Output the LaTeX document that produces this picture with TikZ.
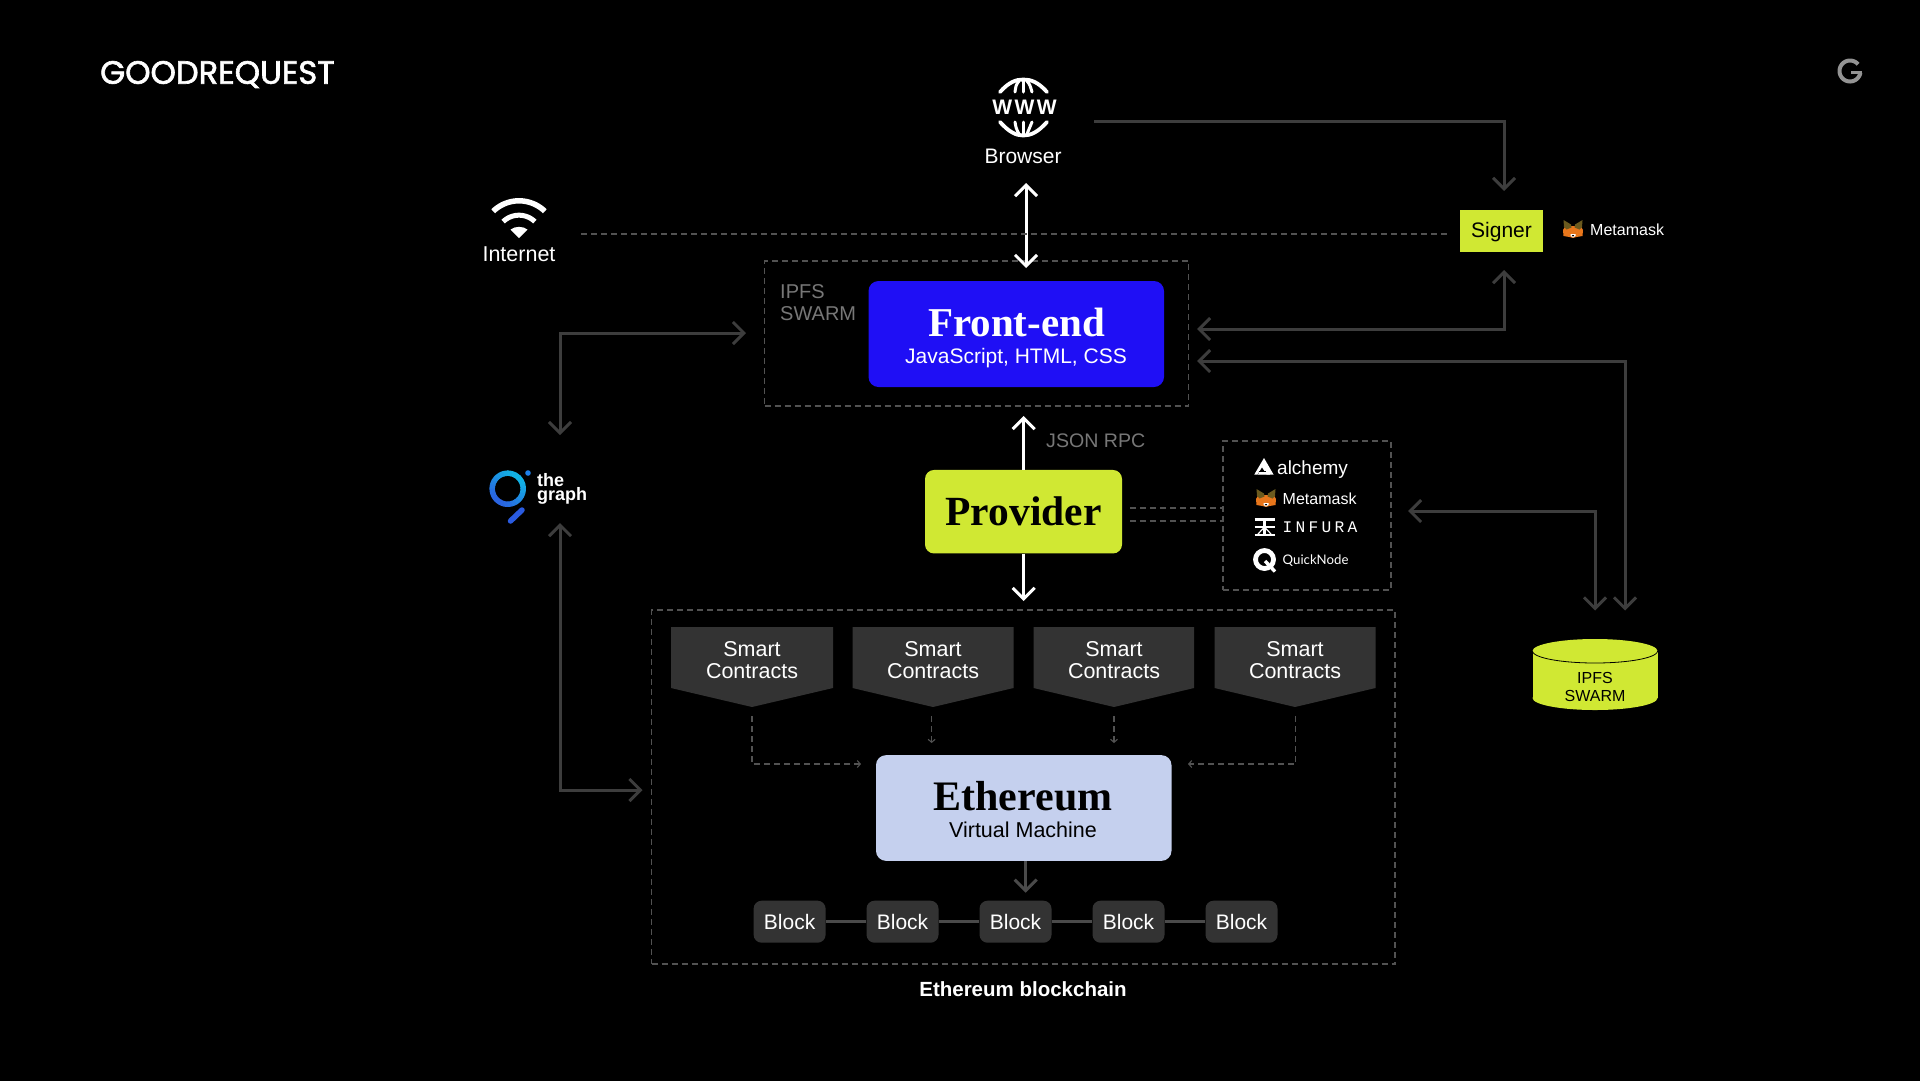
\documentclass[tikz,border=0pt]{standalone}
\usepackage{fontspec}
\usetikzlibrary{arrows.meta,shapes.geometric,calc}
\setmainfont{Liberation Sans}
\newfontfamily\dispfont{Liberation Serif}
\newfontfamily\logofont[FakeBold=2]{Poppins}
\newfontfamily\lato{Lato}
\newfontfamily\infurafont[LetterSpace=20]{Liberation Mono}
\newfontfamily\wwwfont[LetterSpace=12]{Liberation Sans}
\definecolor{lime}{HTML}{D0E833}
\definecolor{bluebox}{HTML}{1F0FF5}
\definecolor{evm}{HTML}{C5D0EE}
\definecolor{darkbox}{HTML}{333333}
\definecolor{lineg}{HTML}{3D3D3D}
\definecolor{lineh}{HTML}{4A4A4A}
\definecolor{dashg}{HTML}{525252}
\definecolor{labelg}{HTML}{777777}
\definecolor{foxo}{HTML}{E8761B}
\definecolor{foxd}{HTML}{6B5A1E}
\definecolor{graphblue}{HTML}{2A5BE0}
\definecolor{graphdot}{HTML}{1E80E8}
\newcommand{\fsz}[1]{\fontsize{#1}{#1}\selectfont}
\newcommand{\foxicon}[2]{%
 \begin{scope}[shift={(#1,#2)}]
  \fill[foxo] (0,10)--(3,5)--(7,6)--(13,6)--(17,5)--(20,10)--(19.5,16)--(13.5,17)--(10,18)--(6.5,17)--(0.5,16)--cycle;
  \fill[foxd] (0.5,0)--(8,4.5)--(8.5,7.5)--(3.5,9.5)--(1,7)--cycle;
  \fill[foxd] (19.5,0)--(12,4.5)--(11.5,7.5)--(16.5,9.5)--(19,7)--cycle;
  \fill[white] (7.5,14)--(12.5,14)--(12.5,16)--(10,17.5)--(7.5,16)--cycle;
  \fill[black] (8.8,15.2)--(11.2,15.2)--(10,16.6)--cycle;
 \end{scope}}
\tikzset{
 txt/.style={text=white,inner sep=0pt,align=center},
 ln/.style={draw=lineg,line width=3pt},
 arr/.style={ln,-{Straight Barb[length=11pt,width=22pt,line width=3pt]}},
 arrb/.style={ln,{Straight Barb[length=11pt,width=22pt,line width=3pt]}-{Straight Barb[length=11pt,width=22pt,line width=3pt]}},
 warr/.style={draw=white,line width=3pt,-{Straight Barb[length=11pt,width=22pt,line width=3pt]}},
 warrb/.style={draw=white,line width=3pt,{Straight Barb[length=11pt,width=22pt,line width=3pt]}-{Straight Barb[length=11pt,width=22pt,line width=3pt]}},
 dsh/.style={draw=dashg,line width=1.1pt,dash pattern=on 6pt off 4pt},
 dsharr/.style={dsh,-{Straight Barb[length=3pt,width=7pt,line width=1.1pt]}},
 dbox/.style={dsh,rectangle,inner sep=0pt,fill=none},
 limebox/.style={fill=lime,text=black,inner sep=0pt,align=center},
 smart/.style={fill=darkbox},
 blockbox/.style={fill=darkbox,rounded corners=8pt,minimum width=72pt,minimum height=42pt,inner sep=0pt,text=white,font=\fsz{21}},
 blockline/.style={draw=lineh,line width=3pt},
 sctext/.style={txt,font=\fontsize{21.5}{22}\selectfont},
}
\begin{document}
\begin{tikzpicture}[x=1pt,y=-1pt]
\useasboundingbox (0,0) rectangle (1920,1080);
\fill[black] (-2,-2) rectangle (1922,1082);

% logo
\node[txt,anchor=west,font=\logofont\fsz{32.2}] (logo) at (100,74.5) {GOODREQUEST};
% G icon
\draw[draw=gray!85,line width=4pt] plot[domain=40:350,samples=40,smooth] ({1850+10.5*cos(\x)},{71-10.5*sin(\x)});
\draw[draw=gray!85,line width=3.5pt] (1851,72.5)--(1862,72.5);

% browser icon
\begin{scope}[line width=3.8pt,line cap=round]
 \draw[white] (1000,92) .. controls (1009,82) and (1016,79.5) .. (1023.3,79.5) .. controls (1031,79.5) and (1038,82) .. (1047,92);
 \draw[white] (1000,122) .. controls (1009,132) and (1016,135.5) .. (1023.3,135.5) .. controls (1031,135.5) and (1038,132) .. (1047,122);
 \draw[white,line width=3pt] (1023.3,81)--(1023.3,92);
 \draw[white,line width=3pt] (1019,81) .. controls (1016,85) .. (1015,92);
 \draw[white,line width=3pt] (1027,81) .. controls (1030,85) .. (1032,92);
 \draw[white,line width=3pt] (1023.3,122)--(1023.3,134);
 \draw[white,line width=3pt] (1015,122) .. controls (1016,128) .. (1019,134);
 \draw[white,line width=3pt] (1032,122) .. controls (1030,128) .. (1027,134);
\end{scope}
\node[txt,font=\wwwfont\bfseries\fsz{21}] (www) at (1024.5,107.5) {WWW};
\node[txt,font=\fsz{21}] (browser) at (1023,156) {Browser};

% wifi icon
\draw[white,line width=5.5pt] plot[domain=46:134,samples=24,smooth] ({519+37.2*cos(\x)},{238-37.2*sin(\x)});
\draw[white,line width=5pt] plot[domain=46:134,samples=24,smooth] ({519+22.8*cos(\x)},{238-22.8*sin(\x)});
\fill[white] (519,238)--(510.5,229.5) .. controls (515,226) and (523,226) .. (527.5,229.5)--cycle;
\node[txt,font=\fsz{21.5}] (internet) at (519,254.5) {Internet};

% nodes
\node[dbox,minimum width=424pt,minimum height=145pt] (ipfsbox) at (976.5,333.5) {};
\node[anchor=north west,inner sep=0pt,text=labelg,align=left,font=\fontsize{20}{22}\selectfont] (ipfslabel) at (780,284.5) {IPFS\\SWARM};
\node[fill=bluebox,rounded corners=10pt,minimum width=295.5pt,minimum height=106pt,inner sep=0pt] (frontend) at (1016.25,334) {};
\node[txt,font=\dispfont\bfseries\fsz{41}] (fetitle) at (1016.5,322) {Front-end};
\node[txt,font=\fsz{21}] (fesub) at (1016,358.5) {JavaScript, HTML, CSS};

\node[limebox,minimum width=82.5pt,minimum height=42pt,text depth=0pt,font=\fsz{21}] (signer) at (1501.3,230.7) {};
\node[inner sep=0pt,text=black,font=\fsz{21}] (signertxt) at (1501.5,232) {Signer};
\foxicon{1563}{220}
\node[txt,anchor=west,font=\fsz{16}] (mm1) at (1590,230) {Metamask};

\node[limebox,rounded corners=9pt,minimum width=197pt,minimum height=83.5pt,font=\dispfont\bfseries\fsz{41.5}] (provider) at (1023.5,511.7) {Provider};
\node[anchor=west,inner sep=0pt,text=labelg,font=\fsz{19.6}] (jsonrpc) at (1046,441) {JSON RPC};

\node[dbox,minimum width=168pt,minimum height=149pt] (provbox) at (1307,515.5) {};
% alchemy logo
\fill[white] (1264,458)--(1273.5,474.5)--(1254.3,474.5)--cycle;
\fill[black] (1262,467.5)--(1266.5,474.6)--(1257.6,474.6)--cycle;
\fill[white] (1259.5,471.5)--(1268.5,471.5)--(1270,474.6)--(1258,474.6)--cycle;
\draw[black,line width=1pt] (1258.5,471.5)--(1265.5,471.5);
\node[txt,anchor=west,font=\fsz{19}] (alchemy) at (1277,470) {alchemy};
\foxicon{1256}{489}
\node[txt,anchor=west,font=\fsz{16}] (mm2) at (1282.5,499) {Metamask};
% infura icon
\begin{scope}[white,line width=2.4pt]
 \draw (1254.5,519.5)--(1274.5,519.5);
 \draw (1254.5,527)--(1274.5,527);
 \draw (1254.5,534.8)--(1274.5,534.8);
 \draw[line width=2.2pt] (1264.5,520)--(1264.5,534);
 \draw[line width=1.2pt] (1264.5,527)--(1258,534);
 \draw[line width=1.2pt] (1264.5,527)--(1271,534);
\end{scope}
\node[txt,anchor=west,font=\infurafont\fsz{16.2}] (infura) at (1282.5,527) {INFURA};
% quicknode icon
\draw[white,line width=4.8pt] (1264.5,559.5) circle[radius=9pt];
\draw[white,line width=3.4pt] (1265,561)--(1275,571.5);
\node[txt,anchor=west,font=\lato\fsz{13.2}] (quicknode) at (1282.5,561) {QuickNode};

% the graph logo
\foreach \a in {0,15,...,345}{
 \pgfmathsetmacro\m{50+50*sin(\a+45)}
 \pgfmathtruncatemacro\cr{42-24*\m/100}
 \pgfmathtruncatemacro\cg{100+80*\m/100}
 \pgfmathtruncatemacro\cb{225+5*\m/100}
 \definecolor{ringc}{RGB}{\cr,\cg,\cb}
 \draw[line width=5.5pt,draw=ringc] plot[domain=\a:{\a+17},samples=4,smooth] ({507.7+15.5*cos(\x)},{488.7-15.5*sin(\x)});
}
\fill[graphdot] (528,473) circle[radius=2.8pt];
\draw[draw=graphblue,line width=5.5pt,line cap=round] (510.5,521)--(522,510);
\node[txt,anchor=west,align=left,font=\bfseries\fontsize{18}{13}\selectfont] (graph) at (537,489) {the\\graph};

% contracts
\fill[smart] (671,627)--(833,627)--(833,688)--(752,707)--(671,688)--cycle;
\fill[smart] (852.5,627)--(1013.5,627)--(1013.5,688)--(933,707)--(852.5,688)--cycle;
\fill[smart] (1033.5,627)--(1194,627)--(1194,688)--(1114,707)--(1033.5,688)--cycle;
\fill[smart] (1214.5,627)--(1375.5,627)--(1375.5,688)--(1295,707)--(1214.5,688)--cycle;
\node[sctext] (sc1) at (752,660.5) {Smart\\Contracts};
\node[sctext] (sc2) at (933,660.5) {Smart\\Contracts};
\node[sctext] (sc3) at (1114,660.5) {Smart\\Contracts};
\node[sctext] (sc4) at (1295,660.5) {Smart\\Contracts};

\node[fill=evm,rounded corners=10pt,minimum width=295.5pt,minimum height=105.7pt,inner sep=0pt] (evmbox) at (1023.75,808) {};
\node[inner sep=0pt,text=black,font=\dispfont\bfseries\fsz{42}] (ethtitle) at (1023,796.5) {Ethereum};
\node[inner sep=0pt,text=black,font=\fsz{21.5}] (ethsub) at (1023,830) {Virtual Machine};

\node[blockbox] (b1) at (789.6,921.7) {Block};
\node[blockbox] (b2) at (902.5,921.7) {Block};
\node[blockbox] (b3) at (1015.5,921.7) {Block};
\node[blockbox] (b4) at (1128.5,921.7) {Block};
\node[blockbox] (b5) at (1241.5,921.7) {Block};

\node[dbox,minimum width=743.5pt,minimum height=354pt] (chainbox) at (1023.25,787) {};
\node[txt,font=\bfseries\fsz{20.5}] (chainlabel) at (1023,989) {Ethereum blockchain};

% cylinder
\fill[lime] (1595,698) ellipse[x radius=62.5pt,y radius=12pt];
\fill[lime] (1532.5,651) rectangle (1657.5,698);
\fill[lime] (1595,651) ellipse[x radius=62.5pt,y radius=12pt];
\draw[black,line width=0.8pt] plot[domain=180:360,samples=40,smooth] ({1595+62.5*cos(\x)},{651-12*sin(\x)});
\node[inner sep=0pt,align=center,text=black,font=\fontsize{16}{18}\selectfont] (ipfscyl) at (1595,686.5) {IPFS\\SWARM};

% coordinates
\coordinate (brTop) at (1026,183);
\coordinate (brBot) at (1026,268);
\coordinate (brRight) at (1094,121);
\coordinate (sigIn) at (1504,191);
\coordinate (sigOut) at (1504,270);
\coordinate (feR1) at (1197,329);
\coordinate (feR2) at (1197,361);
\coordinate (cylR) at (1625,610.5);
\coordinate (cylL) at (1595,610.5);
\coordinate (provR) at (1408,511);
\coordinate (feL) at (746,333);
\coordinate (grTop) at (560,435);
\coordinate (grBot) at (560,523);
\coordinate (chL) at (642.5,790);
\coordinate (ft) at (1023.7,416);
\coordinate (pd) at (1023.7,601);
\coordinate (inet) at (581,234);
\coordinate (sigd) at (1450,234);
\coordinate (pa) at (1130,508);
\coordinate (pb) at (1130,521);
\coordinate (qa) at (1223,508);
\coordinate (qb) at (1223,521);
\coordinate (e1) at (1025.7,861);
\coordinate (e2) at (1025.7,892.7);
\coordinate (s1) at (752,716);
\coordinate (s1t) at (861,764);
\coordinate (s2) at (931.6,716);
\coordinate (s2t) at (931.6,743);
\coordinate (s3) at (1114,716);
\coordinate (s3t) at (1114,743);
\coordinate (s4) at (1295.5,716);
\coordinate (s4t) at (1188,764);

% gray connectors
\draw[arr] (brRight)-|(sigIn);
\draw[arrb] (feR1)-|(sigOut);
\draw[arrb] (feR2)-|(cylR);
\draw[arrb] (provR)-|(cylL);
\draw[arrb] (feL)-|(grTop);
\draw[arrb] (grBot)|-(chL);
% white connectors
\draw[warrb] (brTop)--(brBot);
\draw[warr] (provider.north-|ft)--(ft);
\draw[warr] (provider.south-|pd)--(pd);
% dashed connectors
\draw[dsh] (inet)--(sigd);
\draw[dsh] (pa)--(qa);
\draw[dsh] (pb)--(qb);
\draw[dsharr] (s1)|-(s1t);
\draw[dsharr] (s2)--(s2t);
\draw[dsharr] (s3)--(s3t);
\draw[dsharr] (s4)|-(s4t);
% evm to block
\draw[blockline,-{Straight Barb[length=11pt,width=22pt,line width=3pt]}] (e1)--(e2);
\draw[blockline] (b1)--(b2);
\draw[blockline] (b2)--(b3);
\draw[blockline] (b3)--(b4);
\draw[blockline] (b4)--(b5);
\end{tikzpicture}
\end{document}
